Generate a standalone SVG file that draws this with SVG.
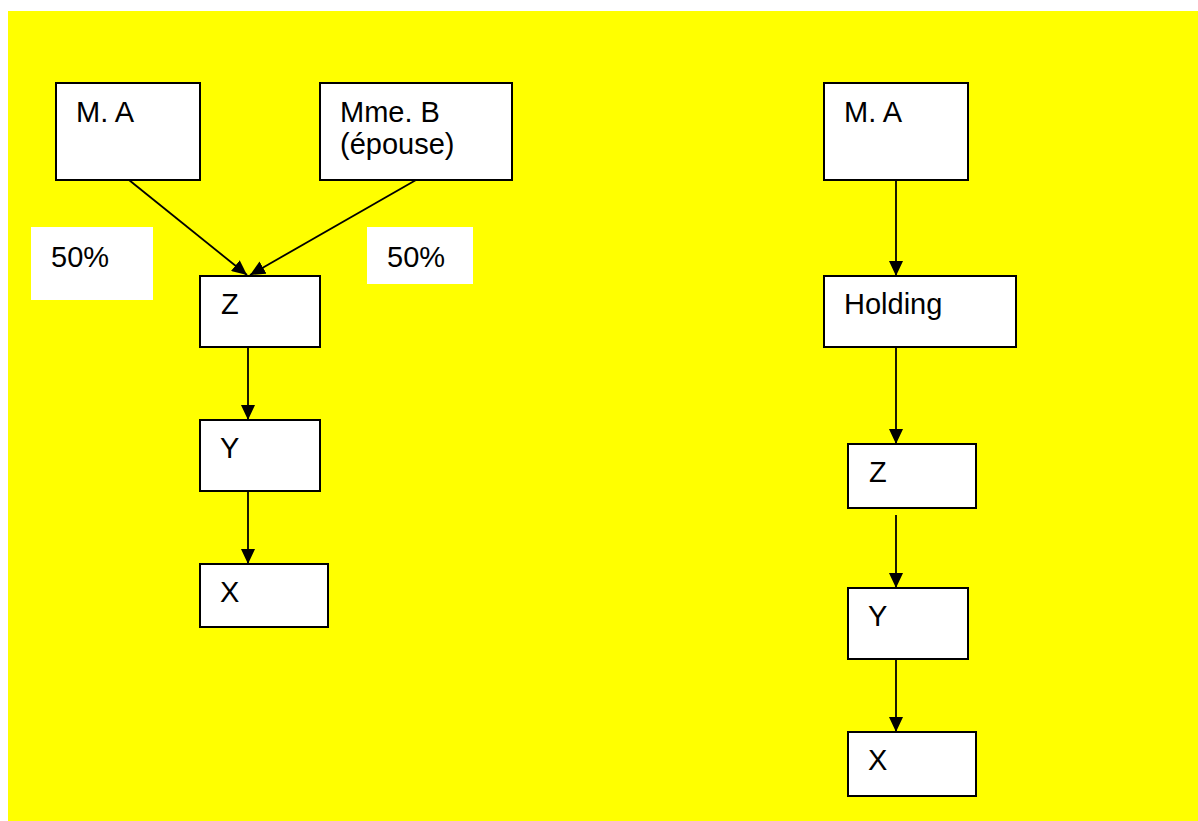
<svg xmlns="http://www.w3.org/2000/svg" width="1198" height="821" viewBox="0 0 1198 821">
  <style>
    .box { fill: #ffffff; stroke: #000000; stroke-width: 2; }
    .pct { fill: #ffffff; stroke: none; }
    .lbl { font-family: "Liberation Sans", Arial, sans-serif; font-size: 29px; fill: #000000; }
    .wire { fill: none; stroke: #000000; stroke-width: 1.8; }
  </style>
  <defs>
    <marker id="arrow" viewBox="0 0 15 14" refX="15" refY="7" markerWidth="15" markerHeight="14" markerUnits="userSpaceOnUse" orient="auto">
      <path d="M0,0 L15,7 L0,14 Z" fill="#000000"/>
    </marker>
  </defs>

  <!-- page background -->
  <rect x="0" y="0" width="1198" height="821" fill="#ffffff"/>
  <rect x="8" y="11" width="1190" height="810" fill="#ffff00"/>

  <!-- ownership connectors -->
  <g id="connectors">
    <line class="wire" x1="129" y1="180" x2="247" y2="275" marker-end="url(#arrow)"/>
    <line class="wire" x1="416" y1="180" x2="250" y2="275" marker-end="url(#arrow)"/>
    <line class="wire" x1="248" y1="347" x2="248" y2="420" marker-end="url(#arrow)"/>
    <line class="wire" x1="248" y1="491" x2="248" y2="564" marker-end="url(#arrow)"/>
    <line class="wire" x1="896" y1="180" x2="896" y2="276" marker-end="url(#arrow)"/>
    <line class="wire" x1="896" y1="347" x2="896" y2="444" marker-end="url(#arrow)"/>
    <line class="wire" x1="896" y1="515" x2="896" y2="588" marker-end="url(#arrow)"/>
    <line class="wire" x1="896" y1="659" x2="896" y2="732" marker-end="url(#arrow)"/>
  </g>

  <!-- left structure -->
  <g id="ma-left">
    <rect class="box" x="56" y="83" width="144" height="97"/>
    <text class="lbl" x="76" y="122">M. A</text>
  </g>
  <g id="mme-b">
    <rect class="box" x="320" y="83" width="192" height="97"/>
    <text class="lbl" x="340" y="122">Mme. B</text>
    <text class="lbl" x="340" y="154">(épouse)</text>
  </g>
  <g id="pct-left">
    <rect class="pct" x="31" y="227" width="122" height="73"/>
    <text class="lbl" x="51" y="267">50%</text>
  </g>
  <g id="pct-right">
    <rect class="pct" x="367" y="227" width="106" height="57"/>
    <text class="lbl" x="387" y="267">50%</text>
  </g>
  <g id="z-left">
    <rect class="box" x="200" y="276" width="120" height="71"/>
    <text class="lbl" x="221" y="314">Z</text>
  </g>
  <g id="y-left">
    <rect class="box" x="200" y="420" width="120" height="71"/>
    <text class="lbl" x="220" y="458">Y</text>
  </g>
  <g id="x-left">
    <rect class="box" x="200" y="564" width="128" height="63"/>
    <text class="lbl" x="220" y="602">X</text>
  </g>

  <!-- right structure -->
  <g id="ma-right">
    <rect class="box" x="824" y="83" width="144" height="97"/>
    <text class="lbl" x="844" y="122">M. A</text>
  </g>
  <g id="holding">
    <rect class="box" x="824" y="276" width="192" height="71"/>
    <text class="lbl" x="844" y="314">Holding</text>
  </g>
  <g id="z-right">
    <rect class="box" x="848" y="444" width="128" height="64"/>
    <text class="lbl" x="869" y="482">Z</text>
  </g>
  <g id="y-right">
    <rect class="box" x="848" y="588" width="120" height="71"/>
    <text class="lbl" x="868" y="626">Y</text>
  </g>
  <g id="x-right">
    <rect class="box" x="848" y="732" width="128" height="64"/>
    <text class="lbl" x="868" y="770">X</text>
  </g>
</svg>
